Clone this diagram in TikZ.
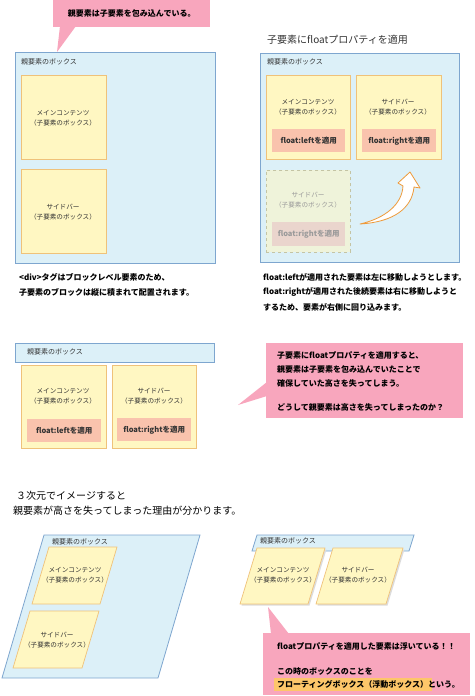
\documentclass[tikz,border=0pt]{standalone}
\usepackage{fontspec}
\setmainfont{Noto Sans CJK JP}
\definecolor{pblue}{HTML}{DCF0F8}
\definecolor{pborder}{HTML}{7EA6CF}
\definecolor{cyellow}{HTML}{FFF7C2}
\definecolor{cborder}{HTML}{EFC27A}
\definecolor{tagpink}{HTML}{F9C3AD}
\definecolor{cpink}{HTML}{F8A6BD}
\definecolor{gfill}{HTML}{EFF3DA}
\definecolor{gborder}{HTML}{C4C4A4}
\definecolor{gtag}{HTML}{EAD5CD}
\definecolor{gtext}{HTML}{9A9A9A}
\definecolor{aorange}{HTML}{EE9A3A}
\definecolor{hilite}{HTML}{FDC66A}
\definecolor{txtgray}{HTML}{333333}
\definecolor{shadowgray}{HTML}{DCDCDC}
\begin{document}
\begin{tikzpicture}[x=1pt,y=-1pt,
  parent/.style={draw=pborder, fill=pblue, line width=0.8pt, inner sep=0pt},
  child/.style={draw=cborder, fill=cyellow, line width=0.7pt, inner sep=0pt},
  ghost/.style={draw=gborder, fill=gfill, line width=0.7pt, dashed, inner sep=0pt},
  tag/.style={fill=tagpink, inner sep=0pt, font=\fontsize{7.5}{8}\selectfont\bfseries, text=txtgray},
  lbl/.style={font=\fontsize{7}{8}\selectfont, text=txtgray, inner sep=0pt},
  ctext/.style={font=\fontsize{6.6}{10}\selectfont, text=txtgray, align=center, inner sep=0pt},
  captext/.style={font=\fontsize{8}{9}\selectfont\bfseries, text=black, inner sep=0pt, anchor=west},
  title/.style={font=\fontsize{10}{12}\selectfont, text=txtgray, inner sep=0pt, anchor=west},
  callout/.style={fill=cpink, inner sep=0pt},
]
\useasboundingbox[fill=white] (0,0) rectangle (474,696);

% ---------- Panel 1 ----------
\node[callout, anchor=north west, minimum width=157, minimum height=27] (b1) at (53,0) {};
\fill[cpink] (60,26) -- (76,26) -- (57,52) -- cycle;
\node[captext, anchor=center] (b1t) at (b1.center) {親要素は子要素を包み込んでいる。};

\node[parent, anchor=north west, minimum width=200, minimum height=211] (p1) at (15,52) {};
\node[lbl, anchor=west] (p1l) at (21,62) {親要素のボックス};
\node[child, anchor=north west, minimum width=85, minimum height=84] (p1a) at (21,75) {};
\node[ctext] (p1at) at (63,118) {メインコンテンツ\\（子要素のボックス）};
\node[child, anchor=north west, minimum width=85, minimum height=84] (p1b) at (21,169) {};
\node[ctext] (p1bt) at (63,212) {サイドバー\\（子要素のボックス）};
\node[captext] (c1a) at (19,277) {<div>タグはブロックレベル要素のため、};
\node[captext] (c1b) at (19,292) {子要素のブロックは縦に積まれて配置されます。};

% ---------- Panel 2 ----------
\node[title] (t2) at (267,40) {子要素にfloatプロパティを適用};
\node[parent, anchor=north west, minimum width=199, minimum height=209] (p2) at (260,53) {};
\node[lbl, anchor=west] (p2l) at (267,62) {親要素のボックス};
\node[child, anchor=north west, minimum width=84, minimum height=84] (p2a) at (266,75) {};
\node[ctext] (p2at) at (308,107) {メインコンテンツ\\（子要素のボックス）};
\node[tag, anchor=north west, minimum width=73, minimum height=23] (p2ag) at (272,129) {float:leftを適用};
\node[child, anchor=north west, minimum width=85, minimum height=84] (p2b) at (356,75) {};
\node[ctext] (p2bt) at (398,107) {サイドバー\\（子要素のボックス）};
\node[tag, anchor=north west, minimum width=74, minimum height=23] (p2bg) at (362,129) {float:rightを適用};
\node[ghost, anchor=north west, minimum width=84, minimum height=82] (p2g) at (266,170) {};
\node[ctext, text=gtext] (p2gt) at (308,200) {サイドバー\\（子要素のボックス）};
\node[tag, fill=gtag, text=gtext, anchor=north west, minimum width=73, minimum height=24] (p2gg) at (272,222) {float:rightを適用};
% curved arrow
\draw[aorange, fill=white, line width=0.8pt, line join=round]
  (360,224) .. controls (386,218) and (402,204) .. (403,186)
  -- (398,183) -- (410,172) -- (420,188) -- (414,187)
  .. controls (412,208) and (394,222) .. (360,224) -- cycle;
\node[captext] (c2a) at (263,277) {float:leftが適用された要素は左に移動しようとします。};
\node[captext] (c2b) at (263,292) {float:rightが適用された後続要素は右に移動しようと};
\node[captext] (c2c) at (263,307) {するため、要素が右側に回り込みます。};

% ---------- Panel 3 ----------
\node[parent, anchor=north west, minimum width=199, minimum height=19] (p3) at (15,343) {};
\node[lbl, anchor=west] (p3l) at (27,352) {親要素のボックス};
\node[child, anchor=north west, minimum width=85, minimum height=83] (p3a) at (21,365) {};
\node[ctext] (p3at) at (63,396) {メインコンテンツ\\（子要素のボックス）};
\node[tag, anchor=north west, minimum width=74, minimum height=23] (p3ag) at (27,419) {float:leftを適用};
\node[child, anchor=north west, minimum width=84, minimum height=83] (p3b) at (112,365) {};
\node[ctext] (p3bt) at (154,396) {サイドバー\\（子要素のボックス）};
\node[tag, anchor=north west, minimum width=74, minimum height=23] (p3bg) at (117,418) {float:rightを適用};

\node[callout, anchor=north west, minimum width=197, minimum height=75] (b2) at (266,343) {};
\fill[cpink] (267,382) -- (267,396) -- (238,405) -- cycle;
\node[captext] (b2a) at (277,355) {子要素にfloatプロパティを適用すると、};
\node[captext] (b2b) at (277,369) {親要素は子要素を包み込んでいたことで};
\node[captext] (b2c) at (277,383) {確保していた高さを失ってしまう。};
\node[captext] (b2d) at (277,407) {どうして親要素は高さを失ってしまったのか？};

% ---------- Panel 4 ----------
\node[title, text=black] (t4a) at (16,496) {３次元でイメージすると};
\node[title, text=black] (t4b) at (13,511) {親要素が高さを失ってしまった理由が分かります。};

% left 3D
\draw[parent] (44,535) -- (200,535) -- (158,678) -- (2,678) -- cycle;
\node[lbl] (q1l) at (80,542) {親要素のボックス};
\draw[child] (49,547) -- (117,547) -- (100,604) -- (32,604) -- cycle;
\node[ctext] (q1a) at (75,575) {メインコンテンツ\\（子要素のボックス）};
\draw[child] (30,611) -- (99,611) -- (82,668) -- (13,668) -- cycle;
\node[ctext] (q1b) at (57,640) {サイドバー\\（子要素のボックス）};

% right 3D
\draw[parent] (257,535) -- (414,535) -- (409,551) -- (252,551) -- cycle;
\node[lbl] (q2l) at (288,541) {親要素のボックス};
\fill[shadowgray] (258.5,549.5) -- (326.5,549.5) -- (309.5,605.5) -- (241.5,605.5) -- cycle;
\fill[shadowgray] (334.5,549.5) -- (404.5,549.5) -- (387.5,605.5) -- (317.5,605.5) -- cycle;
\draw[child] (257,548) -- (325,548) -- (308,604) -- (240,604) -- cycle;
\node[ctext] (q2a) at (283,575) {メインコンテンツ\\（子要素のボックス）};
\draw[child] (333,548) -- (403,548) -- (386,604) -- (316,604) -- cycle;
\node[ctext] (q2b) at (358,575) {サイドバー\\（子要素のボックス）};

\node[callout, anchor=north west, minimum width=207, minimum height=62] (b3) at (263,633) {};
\fill[cpink] (271,634) -- (289,634) -- (268,607) -- cycle;
\fill[hilite] (274,678) rectangle (432,691);
\node[captext] (b3a) at (277,646) {floatプロパティを適用した要素は浮いている！！};
\node[captext] (b3b) at (277,671) {この時のボックスのことを};
\node[captext] (b3c) at (277,684) {フローティングボックス（浮動ボックス）という。};
\end{tikzpicture}
\end{document}
